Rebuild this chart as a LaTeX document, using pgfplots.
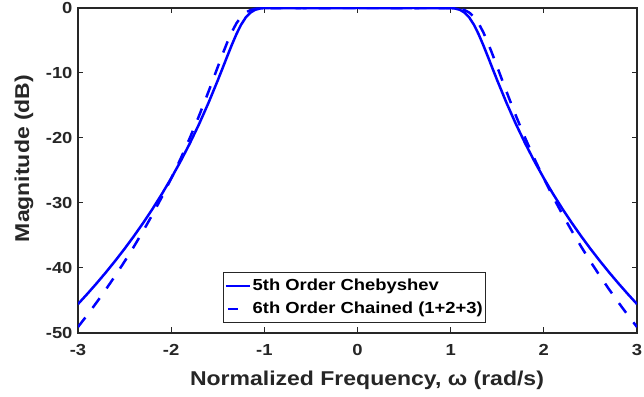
\documentclass[border=0pt]{standalone}
\usepackage{fontspec}
\setmainfont{Liberation Sans}[FakeStretch=1.15]
\usepackage{pgfplots}
\pgfplotsset{compat=1.18}
\definecolor{axisgray}{RGB}{38,38,38}
\definecolor{mblue}{RGB}{0,0,255}
\begin{document}
\begin{tikzpicture}
\begin{axis}[
  at={(78bp,64bp)}, anchor=south west,
  scale only axis, width=559bp, height=325bp,
  xmin=-3, xmax=3, ymin=-50, ymax=0,
  axis line style={draw=axisgray, line width=1.2bp},
  tick style={draw=axisgray, line width=1bp},
  tick align=inside, major tick length=5.5bp,
  xtick={-3,-2,-1,0,1,2,3},
  xticklabels={-3,-2,-1,0,1,2,3},
  ytick={-50,-40,-30,-20,-10,0},
  yticklabels={-50,-40,-30,-20,-10,0},
  ticklabel style={font=\fontsize{16bp}{19bp}\selectfont\bfseries, text=axisgray},
  xticklabel style={yshift=-8bp},
  yticklabel style={xshift=-2bp},
  xlabel={Normalized Frequency, ω (rad/s)},
  ylabel={Magnitude (dB)},
  label style={font=\fontsize{20bp}{24bp}\selectfont\bfseries, text=axisgray},
  xlabel style={at={(axis description cs:0.517,-0.163)}, anchor=base},
  ylabel style={at={(axis description cs:-0.0966,0.537)}, anchor=center},
  legend style={at={(axis description cs:0.4946,0.031)}, anchor=south,
    draw=axisgray, line width=1bp, fill=white,
    font=\fontsize{16bp}{19bp}\selectfont\bfseries, text=black,
    inner xsep=1bp, inner ysep=3.5bp, row sep=3.5bp,
    nodes={inner xsep=1.5bp, inner ysep=2bp, text height=12bp, text depth=3.5bp}},
  legend cell align=left,
]
\addplot[mblue, line width=2.5bp,
  legend image code/.code={\draw[mblue, line width=2.5bp] (0bp,0bp) -- (24bp,0bp);}] coordinates {
(-3.0,-45.548) (-2.9,-43.983) (-2.8,-42.356) (-2.7,-40.660) (-2.6,-38.891)
(-2.5,-37.039) (-2.4,-35.097) (-2.3,-33.055) (-2.2,-30.902) (-2.1,-28.622)
(-2.0,-26.198) (-1.9,-23.611) (-1.8,-20.837) (-1.7,-17.846) (-1.6,-14.615)
(-1.5,-11.139) (-1.45,-9.3271) (-1.4,-7.4991) (-1.35,-5.7065) (-1.3,-4.0323)
(-1.25,-2.5857) (-1.2,-1.4666) (-1.15,-0.7156) (-1.1,-0.2879) (-1.05,-0.0864)
(-1.0,-0.0138) (-0.95,-0.0000) (-0.9,-0.0055) (-0.8,-0.0137) (-0.7,-0.0062)
(-0.6,-0.0000) (-0.5,-0.0034) (-0.4,-0.0107) (-0.3,-0.0137) (-0.2,-0.0098)
(-0.1,-0.0032) (0,0)
(0.1,-0.0032) (0.2,-0.0098) (0.3,-0.0137) (0.4,-0.0107) (0.5,-0.0034)
(0.6,-0.0000) (0.7,-0.0062) (0.8,-0.0137) (0.9,-0.0055) (0.95,-0.0000)
(1.0,-0.0138) (1.05,-0.0864) (1.1,-0.2879) (1.15,-0.7156) (1.2,-1.4666)
(1.25,-2.5857) (1.3,-4.0323) (1.35,-5.7065) (1.4,-7.4991) (1.45,-9.3271)
(1.5,-11.139) (1.6,-14.615) (1.7,-17.846) (1.8,-20.837) (1.9,-23.611)
(2.0,-26.198) (2.1,-28.622) (2.2,-30.902) (2.3,-33.055) (2.4,-35.097)
(2.5,-37.039) (2.6,-38.891) (2.7,-40.660) (2.8,-42.356) (2.9,-43.983)
(3.0,-45.548)
};
\addlegendentry{5th Order Chebyshev}
\addplot[mblue, line width=2.5bp, dash pattern=on 12bp off 12bp,
  legend image code/.code={\draw[mblue, line width=2.5bp] (2bp,0bp) -- (12bp,0bp);}] coordinates {
(-3.0,-49.078) (-2.9,-47.219) (-2.8,-45.289) (-2.7,-43.279) (-2.6,-41.184)
(-2.5,-38.994) (-2.4,-36.701) (-2.3,-34.294) (-2.2,-31.760) (-2.1,-29.083)
(-2.0,-26.246) (-1.9,-23.229) (-1.8,-20.009) (-1.7,-16.566) (-1.6,-12.900)
(-1.5,-9.0752) (-1.45,-7.1731) (-1.4,-5.3582) (-1.35,-3.7228) (-1.3,-2.369)
(-1.25,-1.3653) (-1.2,-0.7083) (-1.15,-0.3290) (-1.1,-0.1355) (-1.05,-0.0481)
(-1.0,-0.0138) (-0.95,-0.0027) (-0.8,-0.0001) (-0.5,-0.0009) (-0.3,-0.0005)
(0,0)
(0.3,-0.0005) (0.5,-0.0009) (0.8,-0.0001) (0.95,-0.0027) (1.0,-0.0138)
(1.05,-0.0481) (1.1,-0.1355) (1.15,-0.3290) (1.2,-0.7083) (1.25,-1.3653)
(1.3,-2.369) (1.35,-3.7228) (1.4,-5.3582) (1.45,-7.1731) (1.5,-9.0752)
(1.6,-12.900) (1.7,-16.566) (1.8,-20.009) (1.9,-23.229) (2.0,-26.246)
(2.1,-29.083) (2.2,-31.760) (2.3,-34.294) (2.4,-36.701) (2.5,-38.994)
(2.6,-41.184) (2.7,-43.279) (2.8,-45.289) (2.9,-47.219) (3.0,-49.078)
};
\addlegendentry{6th Order Chained (1+2+3)}
\end{axis}
\pgfresetboundingbox
\useasboundingbox (0bp,0bp) rectangle (644bp,397bp);
\end{tikzpicture}
\end{document}
